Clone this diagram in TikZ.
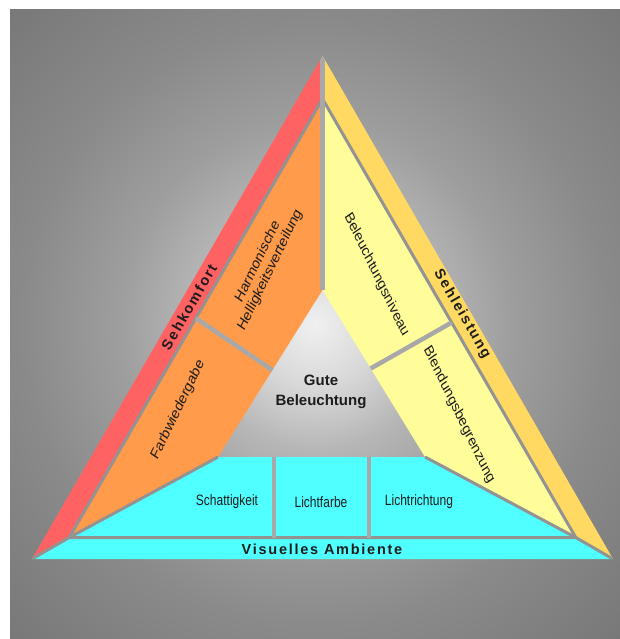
\documentclass[tikz,border=0pt]{standalone}
\usepackage{fontspec}
\setmainfont{Liberation Sans}
\newfontfamily\widesans[LetterSpace=12]{Liberation Sans}
\usetikzlibrary{calc}

\definecolor{komfortred}{HTML}{FF6262}
\definecolor{leistungyellow}{HTML}{FFD962}
\definecolor{ambientecyan}{HTML}{50FFFF}
\definecolor{fieldorange}{HTML}{FF9B4A}
\definecolor{fieldyellow}{HTML}{FFFC9A}
\definecolor{bandgray}{HTML}{939393}
\definecolor{sepgray}{HTML}{A8A8A8}
\definecolor{labelblack}{HTML}{1C1C1C}
\definecolor{bgA}{HTML}{F0F0F0}
\definecolor{bgB}{HTML}{D8D8D8}
\definecolor{bgC}{HTML}{B6B6B6}
\definecolor{bgD}{HTML}{9E9E9E}
\definecolor{bgE}{HTML}{8A8A8A}
\definecolor{bgF}{HTML}{777777}

\pgfdeclareradialshading{bgglow}{\pgfpointorigin}{color(0bp)=(bgA); color(5bp)=(bgB); color(10bp)=(bgC); color(16bp)=(bgD); color(24bp)=(bgE); color(36bp)=(bgF); color(50bp)=(bgF)}

\begin{document}
\begin{tikzpicture}[x=1pt, y=-1pt,
    bandline/.style={draw=bandgray, line width=3pt},
    sepline/.style={draw=sepgray, line width=4.5pt},
    bandtext/.style={font=\widesans\bfseries\fontsize{14.5}{17}\selectfont, text=labelblack, inner sep=0pt},
    fieldtext/.style={font=\fontsize{15.5}{17}\selectfont, xscale=0.84, text=labelblack, align=center, inner sep=0pt},
    celltext/.style={font=\fontsize{15}{17}\selectfont, xscale=0.8, text=labelblack, inner sep=0pt}]
    % Draw page and background
    \useasboundingbox (0,0) rectangle (620,639);
    \fill[white] (0,0) rectangle (620,639);
    \shade[shading=bgglow] (10,10) rectangle (620,639);

    % Corners of the triangle
    \coordinate (A) at (322.5,55.8);
    \coordinate (B) at (32,559);
    \coordinate (C) at (613,559);
    \coordinate (G) at (322.5,391.3);
    \coordinate (A1) at ($(G)!0.8718!(A)$);
    \coordinate (B1) at ($(G)!0.8718!(B)$);
    \coordinate (C1) at ($(G)!0.8718!(C)$);

    % Inner triangle
    \coordinate (T) at (322.5,290);
    \coordinate (L) at (218,457);
    \coordinate (R) at (425,457);

    % Outer bands
    \fill[komfortred] (A) -- (B) -- (B1) -- (A1) -- cycle;
    \fill[leistungyellow] (A) -- (C) -- (C1) -- (A1) -- cycle;
    \fill[ambientecyan] (B) -- (C) -- (C1) -- (B1) -- cycle;

    % Fields
    \fill[fieldorange] (A1) -- (B1) -- (L) -- (T) -- cycle;
    \fill[fieldyellow] (A1) -- (C1) -- (R) -- (T) -- cycle;
    \fill[ambientecyan] (B1) -- (C1) -- (R) -- (L) -- cycle;

    % Separators
    \begin{scope}
        \clip (A) -- (B) -- (C) -- cycle;
        \draw[bandline] (A1) -- (B1) -- (C1) -- cycle;
        \draw[bandline] (B) -- (B1) -- (L);
        \draw[bandline] (C) -- (C1) -- (R);
        \draw[sepline, line width=5pt] (A) -- (T);
        \draw[sepline] ($(A1)!0.5!(B1)$) -- ($(T)!0.48!(L)$);
        \draw[sepline] ($(A1)!0.51!(C1)$) -- ($(T)!0.47!(R)$);
        \draw[sepline, line width=4pt] (274,457) -- (274,537.5);
        \draw[sepline, line width=4pt] (368.5,457) -- (368.5,537.5);
    \end{scope}

    % Band labels
    \node[bandtext, rotate=60] (sehkomfort) at (189,307) {Sehkomfort};
    \node[bandtext, rotate=-60] (sehleistung) at (462,314) {Sehleistung};
    \node[bandtext] (ambiente) at (322,549) {Visuelles Ambiente};

    % Centre
    \node[font=\bfseries\fontsize{15}{20}\selectfont, text=labelblack, align=center] (gute) at (321,392) {Gute\\Beleuchtung};

    % Field labels
    \node[fieldtext, rotate=60] (helligkeit) at (264,266) {Harmonische\\Helligkeitsverteilung};
    \node[fieldtext, rotate=60] (farbwiedergabe) at (178,410) {Farbwiedergabe};
    \node[fieldtext, rotate=-60] (niveau) at (376.5,275) {Beleuchtungsniveau};
    \node[fieldtext, rotate=-60] (blendung) at (459,415) {Blendungsbegrenzung};
    \node[celltext] (schatten) at (227,502) {Schattigkeit};
    \node[celltext] (lichtfarbe) at (321,502) {Lichtfarbe};
    \node[celltext] (lichtrichtung) at (419,502) {Lichtrichtung};
\end{tikzpicture}
\end{document}
